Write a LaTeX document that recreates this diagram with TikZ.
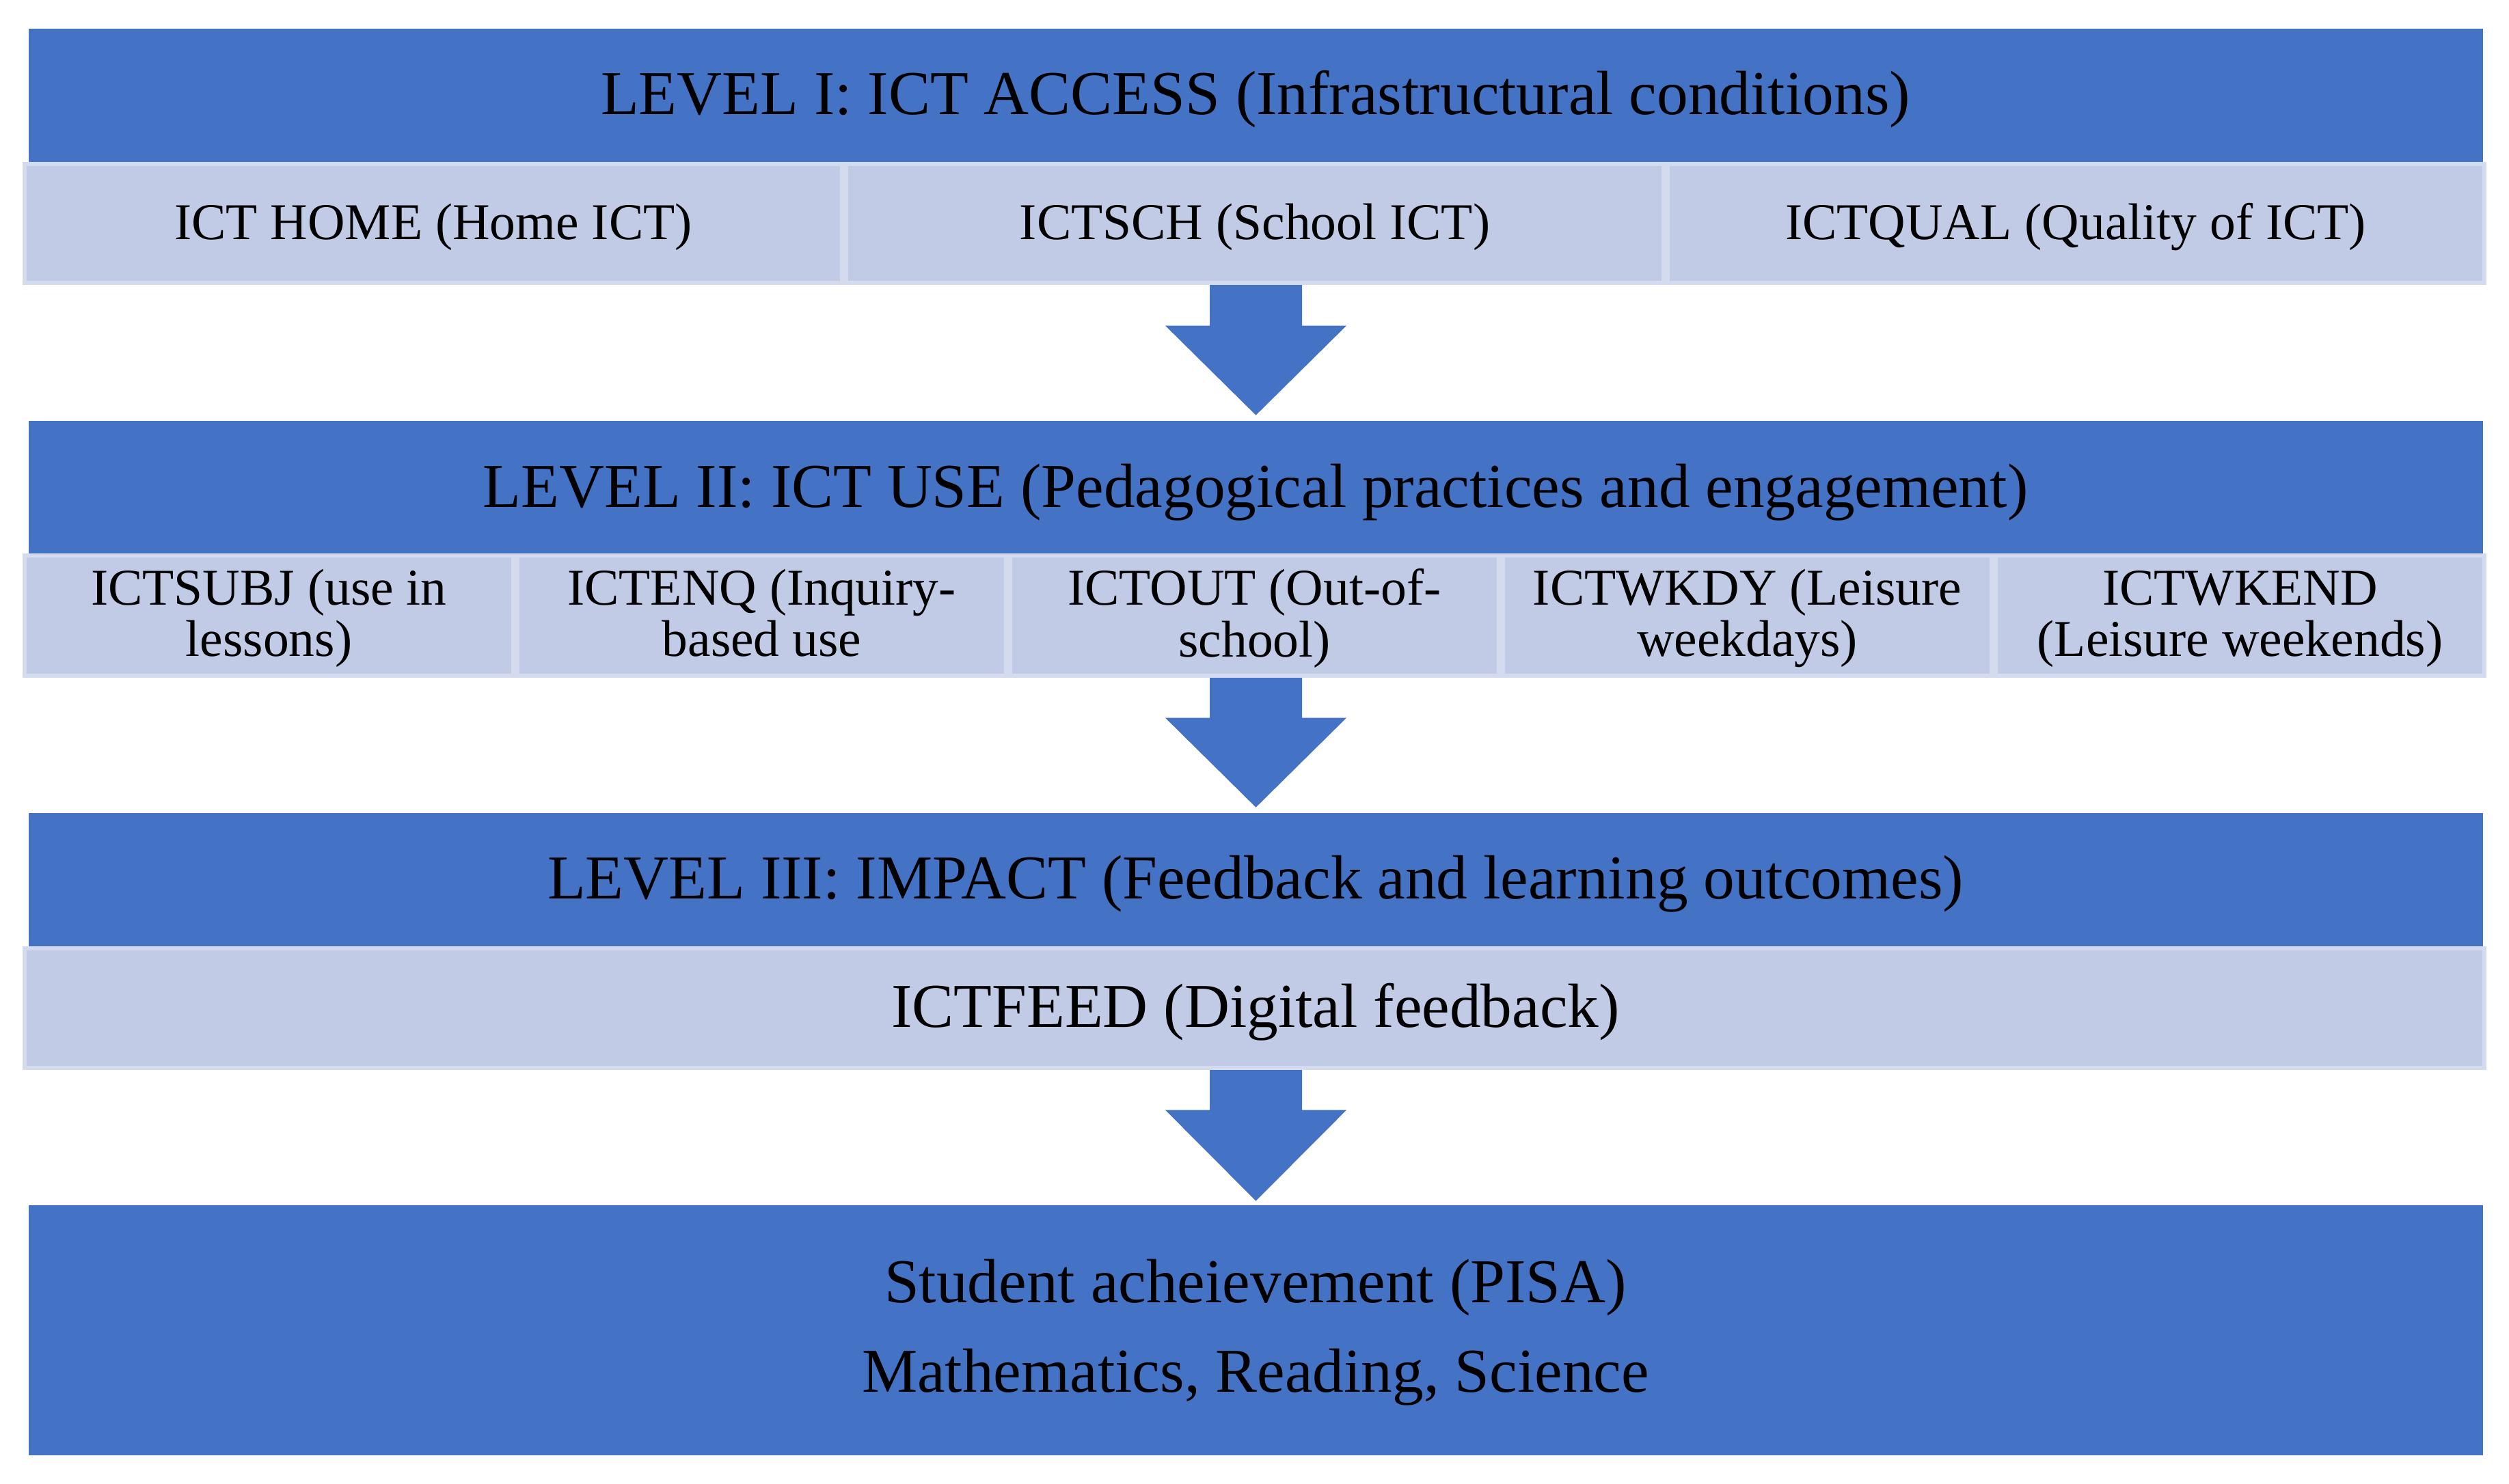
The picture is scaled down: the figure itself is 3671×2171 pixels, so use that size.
\documentclass[tikz,border=0pt]{standalone}
\usepackage{fontspec}
\setmainfont{Liberation Serif}
\usetikzlibrary{fit,calc}
\pgfdeclarelayer{background}
\pgfsetlayers{background,main}
\definecolor{lvlblue}{RGB}{68,114,196}
\definecolor{cellfill}{RGB}{193,203,230}
\definecolor{cellline}{RGB}{213,219,238}
\begin{document}
\begin{tikzpicture}[x=0.02cm,y=-0.02cm,
  lvlbox/.style={fill=lvlblue,draw=none,inner sep=0pt},
  cellbox/.style={fill=cellfill,draw=cellline,line width=0.12cm,inner sep=0pt},
  arrowfill/.style={fill=lvlblue,draw=none},
  titletxt/.style={font=\fontsize{52}{52}\selectfont,anchor=base,inner sep=0pt},
  celltxt/.style={font=\fontsize{43}{43}\selectfont,anchor=base,inner sep=0pt},
  twotxt/.style={font=\fontsize{43}{43}\selectfont,align=center,inner sep=0pt},
  bigtxt/.style={font=\fontsize{52}{52}\selectfont,anchor=base,inner sep=0pt}]
\useasboundingbox (0,0) rectangle (3671,2171);
% level boxes
\node[lvlbox,fit={(42,42) (3633,237)}] (L1) {};
\node[lvlbox,fit={(42,616) (3633,810)}] (L2) {};
\node[lvlbox,fit={(42,1190) (3633,1385)}] (L3) {};
\node[lvlbox,fit={(42,1764) (3633,2130)}] (L4) {};
% row 1 cells
\node[cellbox,fit={(36,240) (1232,414)}] (c11) {};
\node[cellbox,fit={(1238,240) (2434,414)}] (c12) {};
\node[cellbox,fit={(2440,240) (3635,414)}] (c13) {};
% row 2 cells
\node[cellbox,fit={(36,813) (751,989)}] (c21) {};
\node[cellbox,fit={(757,813) (1472,989)}] (c22) {};
\node[cellbox,fit={(1478,813) (2193,989)}] (c23) {};
\node[cellbox,fit={(2199,813) (2914,989)}] (c24) {};
\node[cellbox,fit={(2920,813) (3635,989)}] (c25) {};
% row 3 cell
\node[cellbox,fit={(36,1388) (3635,1563)}] (c31) {};
% texts
\node[titletxt] (t1) at (1837,167) {LEVEL I: ICT ACCESS (Infrastructural conditions)};
\node[celltxt] (t11) at (634,350) {ICT HOME (Home ICT)};
\node[celltxt] (t12) at (1836,350) {ICTSCH (School ICT)};
\node[celltxt] (t13) at (3037,350) {ICTQUAL (Quality of ICT)};
\node[titletxt] (t2) at (1837,742) {LEVEL II: ICT USE (Pedagogical practices and engagement)};
\node[twotxt] (t21) at (393.5,908) {\strut ICTSUBJ (use in\\\strut lessons)};
\node[twotxt] (t22) at (1114.5,908) {\strut ICTENQ (Inquiry-\\\strut based use};
\node[twotxt] (t23) at (1835.5,908) {\strut ICTOUT (Out-of-\\\strut school)};
\node[twotxt] (t24) at (2556.5,908) {\strut ICTWKDY (Leisure\\\strut weekdays)};
\node[twotxt] (t25) at (3277.5,908) {\strut ICTWKEND\\\strut (Leisure weekends)};
\node[titletxt] (t3) at (1837,1315) {LEVEL III: IMPACT (Feedback and learning outcomes)};
\node[bigtxt] (t31) at (1837,1503) {ICTFEED (Digital feedback)};
\node[font=\fontsize{52}{74.3}\selectfont,align=center,inner sep=0pt] (t4) at (1837,1946)
  {\strut Student acheievement (PISA)\\\strut Mathematics, Reading, Science};
% arrows
\coordinate (a1) at ($(L2.north)+(0,-8)$);
\coordinate (a2) at ($(L3.north)+(0,-8)$);
\coordinate (a3) at ($(L4.north)+(0,-6)$);
\begin{pgfonlayer}{background}
\fill[arrowfill] ($(c12.south -| a1)+(-67.5,0)$) -- ($(c12.south -| a1)+(67.5,0)$)
  -- ($(a1)+(67.5,-131)$) -- ($(a1)+(132.5,-131)$) -- (a1)
  -- ($(a1)+(-132.5,-131)$) -- ($(a1)+(-67.5,-131)$) -- cycle;
\fill[arrowfill] ($(c23.south -| a2)+(-67.5,0)$) -- ($(c23.south -| a2)+(67.5,0)$)
  -- ($(a2)+(67.5,-131)$) -- ($(a2)+(132.5,-131)$) -- (a2)
  -- ($(a2)+(-132.5,-131)$) -- ($(a2)+(-67.5,-131)$) -- cycle;
\fill[arrowfill] ($(c31.south -| a3)+(-67.5,0)$) -- ($(c31.south -| a3)+(67.5,0)$)
  -- ($(a3)+(67.5,-133)$) -- ($(a3)+(132.5,-133)$) -- (a3)
  -- ($(a3)+(-132.5,-133)$) -- ($(a3)+(-67.5,-133)$) -- cycle;
\end{pgfonlayer}
\end{tikzpicture}
\end{document}
